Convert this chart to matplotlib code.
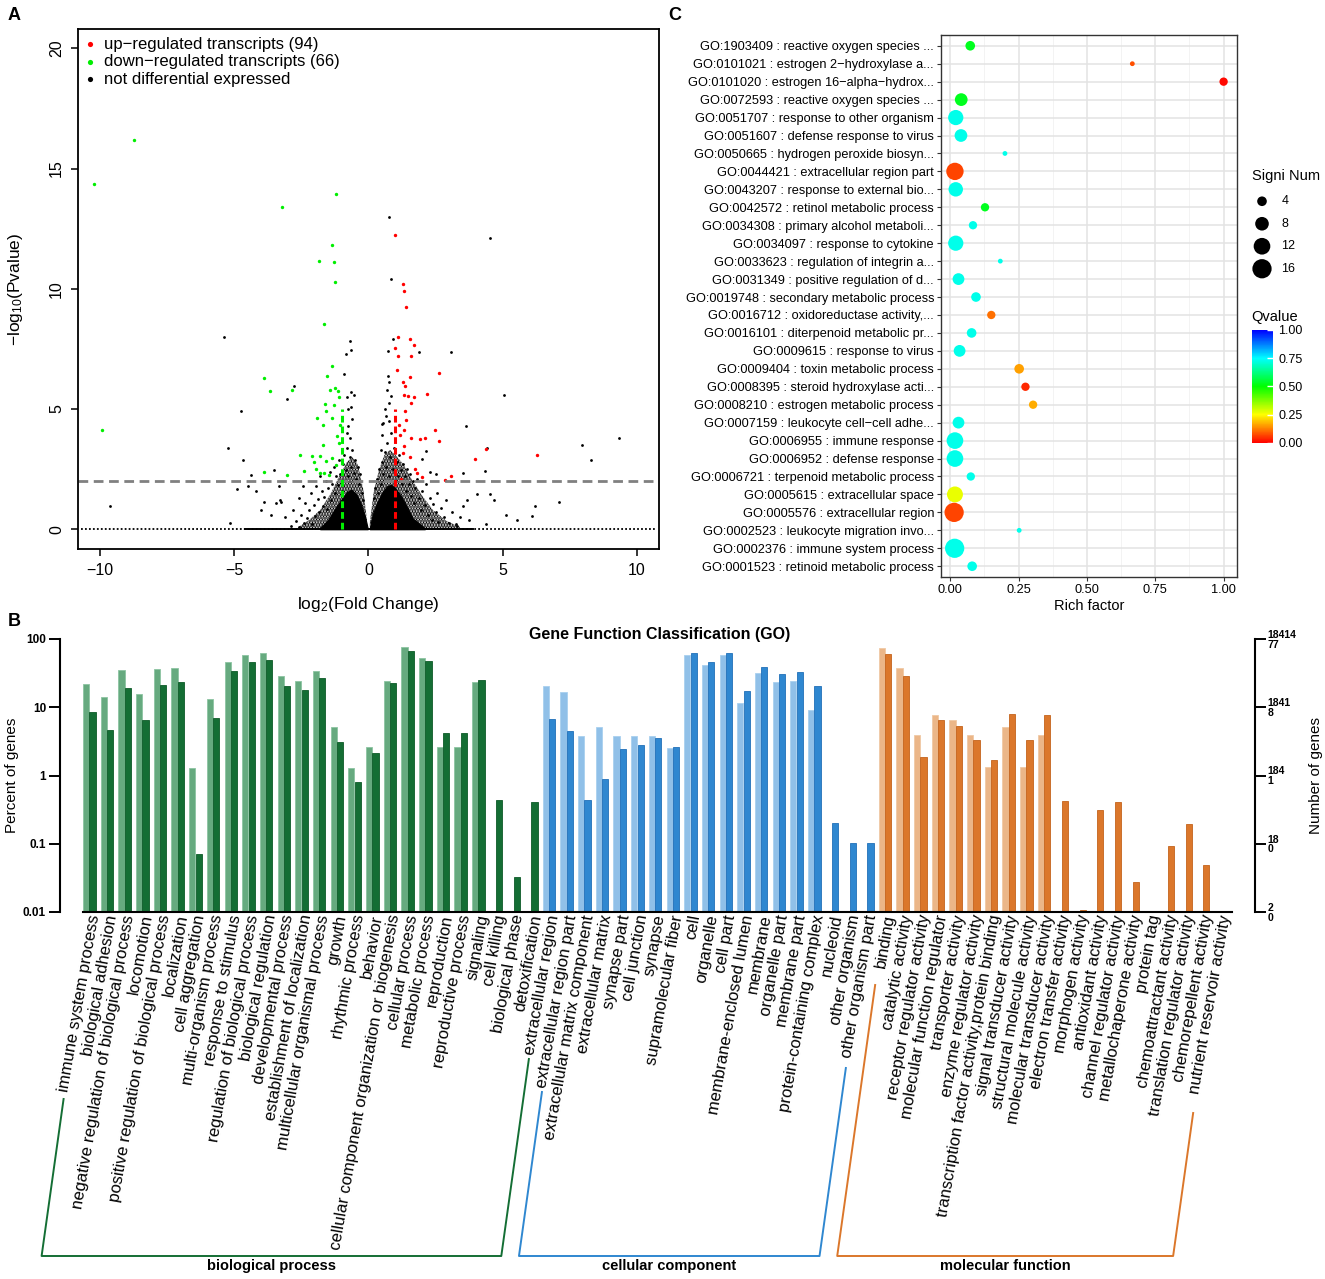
import numpy as np
import matplotlib
matplotlib.use('Agg')
import matplotlib.pyplot as plt
import matplotlib.transforms as mtransforms
from matplotlib.colors import LinearSegmentedColormap
from matplotlib.lines import Line2D

plt.rcParams['font.family'] = ['Liberation Sans', 'DejaVu Sans']
plt.rcParams['mathtext.default'] = 'regular'
plt.rcParams['hatch.linewidth'] = 1.7

W, H = 1325, 1279

# ---------------- A: volcano data ----------------
up_x = [1.0, 1.29, 1.32, 1.40, 1.10, 1.53, 1.0, 1.69, 1.10, 1.57, 1.08, 1.53, 2.61, 1.30, 1.37,
        1.32, 1.46, 1.69, 2.18, 1.57, 1.37, 1.40, 1.14, 1.34, 2.48, 1.16, 1.57, 1.92, 2.11, 2.61,
        1.32, 1.29, 4.39, 6.30, 1.53, 3.97, 1.72, 1.80, 2.85, 3.07, 2.0, 1.21]
up_y = [12.22, 10.20, 9.92, 9.26, 7.98, 7.91, 7.53, 7.65, 7.20, 7.20, 6.63, 6.35, 6.51, 6.13, 5.97,
        5.59, 5.56, 5.48, 5.61, 5.23, 4.93, 4.54, 4.33, 4.11, 4.11, 3.91, 3.78, 3.75, 3.78, 3.67,
        3.45, 3.17, 3.34, 3.09, 3.01, 2.93, 2.52, 2.35, 2.06, 2.22, 2.19, 2.11]

down_x = [-10.22, -8.74, -9.95, -3.23, -1.21, -1.35, -1.83, -1.27, -1.24, -1.67, -1.35, -1.54,
          -3.91, -3.66, -2.85, -1.45, -1.24, -1.14, -1.10, -1.62, -1.27, -1.59, -1.91, -1.37,
          -1.69, -1.07, -1.16, -1.10, -1.70, -2.54, -2.11, -1.81, -2.05, -1.57, -1.35, -3.88,
          -3.05, -2.40, -1.97, -1.81, -1.65, -1.46, -1.22]
down_y = [14.34, 16.17, 4.11, 13.39, 13.96, 11.84, 11.15, 11.13, 10.28, 8.54, 6.78, 6.37,
          6.27, 5.76, 5.77, 5.81, 5.86, 5.74, 5.49, 5.20, 5.16, 4.90, 4.61, 4.61,
          4.33, 4.34, 3.87, 3.59, 3.49, 3.09, 3.04, 3.04, 2.80, 2.85, 2.96, 2.38,
          2.27, 2.43, 2.52, 2.35, 2.35, 2.27, 2.68]

ns_x = [0.75, 0.84, 4.52, -5.39, -0.70, -0.67, -0.83, 0.92, 0.73, 1.89, 3.07, -2.77, -3.04,
        -4.75, -5.23, -4.69, 5.07, 3.62, 4.42, 7.97, 9.35, 8.28, -9.63, 7.09, 6.22, 6.10, 5.14,
        5.53, -5.15, -0.92, -0.65, -0.81, -0.78, 0.72, 0.76, 0.84, 0.76, 0.49, 2.16, 1.99, 4.34,
        3.51, -4.39, -3.53, -4.90, -4.48, -4.20, -3.34, -4.0, -3.62, -3.88, -3.43, -3.28, 4.04,
        4.52, 4.67, 3.69, 3.75, 4.39, 3.53, 3.28]
ns_y = [12.99, 10.39, 12.11, 7.98, 7.83, 7.45, 7.27, 7.91, 7.40, 7.37, 7.37, 5.94, 5.43,
        4.90, 3.37, 2.86, 5.59, 4.29, 3.37, 3.50, 3.80, 2.88, 0.95, 1.15, 0.95, 0.54, 0.59,
        0.38, 0.25, 6.45, 5.72, 5.48, 4.98, 6.38, 6.13, 5.56, 5.23, 4.36, 3.26, 2.93, 2.43,
        2.35, 2.27, 2.47, 1.69, 1.78, 1.61, 1.78, 0.82, 0.58, 1.15, 1.09, 1.12, 1.45,
        1.45, 1.20, 1.20, 0.38, 0.21, 0.95, 0.21]

halo_x = [-2.9, -2.7, -2.6, -2.5, -2.4, -2.35, -2.3, -2.2, -2.15, -2.1, -2.05, -2.0, -1.95, -1.9,
          -1.85, -1.8, -1.75, -1.7, -1.65, -1.6, -1.55, -1.5, -1.45, -1.4, -1.35, -1.3, -1.25,
          -1.2, -1.15, -1.1, -1.05, -0.95, -0.9, -0.85, -0.8, -0.75, -0.7, -0.65, -0.6, -0.55,
          -0.5, -0.45, -0.4, -0.35, -0.3, -0.25, -0.2, -0.7, -0.75, -0.6, -0.8, -0.65, -0.55,
          -0.9, -1.0, -2.6, -3.1, -3.3, -2.8, -2.45,
          0.2, 0.25, 0.3, 0.35, 0.4, 0.45, 0.5, 0.55, 0.6, 0.65, 0.7, 0.75, 0.8, 0.85, 0.9, 0.95,
          1.05, 1.1, 1.15, 1.2, 1.25, 1.3, 1.35, 1.4, 1.45, 1.5, 1.55, 1.6, 1.65, 1.7, 1.75, 1.8,
          1.9, 1.95, 2.0, 2.1, 2.15, 2.2, 2.3, 2.35, 2.4, 2.5, 2.55, 2.6, 2.7, 2.8, 2.9, 3.0,
          3.1, 3.3, 3.4, 0.55, 0.6, 0.7, 0.65, 0.75, 0.5, 0.45, 2.5, 2.3]
halo_y = [0.15, 0.35, 0.1, 0.6, 0.25, 1.1, 0.45, 0.8, 1.5, 0.2, 1.0, 0.55, 1.8, 1.25,
          0.7, 2.2, 1.6, 0.95, 1.35, 2.0, 0.85, 1.7, 2.4, 1.2, 1.9, 2.6, 1.5,
          2.2, 1.85, 2.9, 2.3, 2.7, 3.1, 2.45, 3.4, 2.2, 3.0, 2.6, 3.3, 2.35,
          2.9, 2.1, 2.6, 1.9, 2.3, 1.5, 1.2, 3.8, 4.3, 4.6, 4.0, 5.1, 5.6,
          2.0, 1.6, 1.3, 0.5, 1.2, 0.8, 1.8,
          1.3, 1.7, 2.1, 1.5, 2.5, 1.9, 2.8, 2.3, 3.2, 2.6, 3.6, 2.2, 3.0, 4.0, 2.5, 3.4,
          2.8, 2.2, 3.1, 2.45, 1.9, 2.7, 2.2, 1.6, 2.5, 1.9, 2.3, 1.4, 2.0, 1.1, 1.7, 2.1,
          1.3, 0.8, 1.6, 1.0, 1.9, 0.6, 1.3, 0.4, 1.05, 0.7, 1.5, 0.3, 0.9, 0.5, 1.2, 0.25,
          0.7, 0.15, 0.5, 4.4, 5.0, 5.8, 4.7, 4.5, 3.9, 3.3, 2.3, 2.4]

# outline of the crowded point cloud (many overlapping points)
cloud_left_x = [-2.6, -2.2, -1.8, -1.4, -1.1, -0.8, -0.6, -0.4, -0.2, -0.05]
cloud_left_y = [0.1, 0.4, 0.8, 1.5, 2.2, 2.8, 3.0, 2.7, 1.7, 0.3]
cloud_right_x = [0.05, 0.2, 0.4, 0.6, 0.8, 1.0, 1.3, 1.6, 2.0, 2.4, 2.9, 3.4]
cloud_right_y = [0.3, 1.6, 2.5, 3.1, 3.3, 3.1, 2.7, 2.1, 1.4, 0.8, 0.35, 0.1]
# outline of the solid black part
core_left_x = [-1.8, -1.5, -1.25, -1.0, -0.8, -0.64, -0.45, -0.3, -0.15, -0.03]
core_left_y = [0.05, 0.4, 0.85, 1.25, 1.55, 1.65, 1.45, 1.1, 0.6, 0.05]
core_right_x = [0.05, 0.15, 0.3, 0.5, 0.7, 0.85, 1.0, 1.2, 1.4, 1.65, 2.1]
core_right_y = [0.05, 0.6, 1.05, 1.5, 1.8, 1.85, 1.7, 1.4, 1.0, 0.45, 0.05]

base_x = [-10.7, 10.7]
base_dense_x = [-4.6, 3.9]
fc_cut = 1
p_cut = 2
fc_mark_top = 5

# ---------------- B: GO classification ----------------
bp_terms = ['immune system process', 'biological adhesion', 'negative regulation of biological process',
            'locomotion', 'positive regulation of biological process', 'localization', 'cell aggregation',
            'multi-organism process', 'response to stimulus', 'regulation of biological process',
            'biological regulation', 'developmental process', 'establishment of localization',
            'multicellular organismal process', 'growth', 'rhythmic process', 'behavior',
            'cellular component organization or biogenesis', 'cellular process', 'metabolic process',
            'reproduction', 'reproductive process', 'signaling', 'cell killing', 'biological phase',
            'detoxification']
bp_all = [21.9, 14.3, 34.8, 15.5, 36.4, 37.7, 1.3, 13.0, 45.6, 59.0, 62.4, 28.4, 24.3, 34.4, 5.15,
          1.3, 2.6, 24.3, 75.5, 52.7, 2.6, 2.6, 23.2, np.nan, np.nan, np.nan]
bp_deg = [8.45, 4.6, 19.0, 6.4, 21.5, 23.5, 0.07, 7.0, 33.6, 46.0, 49.3, 20.3, 17.7, 26.6, 3.1,
          0.81, 2.17, 22.4, 67.5, 48.2, 4.2, 4.2, 24.8, 0.44, 0.033, 0.41]

cc_terms = ['extracellular region', 'extracellular region part', 'extracellular matrix component',
            'extracellular matrix', 'synapse part', 'cell junction', 'synapse', 'supramolecular fiber',
            'cell', 'organelle', 'cell part', 'membrane-enclosed lumen', 'membrane', 'organelle part',
            'membrane part', 'protein-containing complex', 'nucleoid', 'other organism',
            'other organism part']
cc_all = [20.5, 16.8, 3.85, 5.15, 3.85, 3.85, 3.85, 2.57, 59.0, 42.0, 58.4, 11.7, 32.2, 23.2,
          24.5, 9.04, np.nan, np.nan, np.nan]
cc_deg = [6.7, 4.56, 0.44, 0.90, 2.48, 2.81, 3.56, 2.66, 62.4, 46.0, 62.4, 17.3, 39.4, 30.8,
          32.9, 20.8, 0.2, 0.102, 0.102]

mf_terms = ['binding', 'catalytic activity', 'receptor regulator activity', 'molecular function regulator',
            'transporter activity', 'enzyme regulator activity',
            'transcription factor activity,protein binding', 'signal transducer activity',
            'structural molecule activity', 'molecular transducer activity', 'electron transfer activity',
            'morphogen activity', 'antioxidant activity', 'channel regulator activity',
            'metallochaperone activity', 'protein tag', 'chemoattractant activity',
            'translation regulator activity', 'chemorepellent activity', 'nutrient reservoir activity']
mf_all = [73.8, 37.7, 3.9, 7.8, 6.45, 3.9, 1.31, 5.15, 1.31, 3.9] + [np.nan] * 10
mf_deg = [60.3, 28.7, 1.86, 6.4, 5.27, 3.33, 1.69, 7.98, 3.33, 7.63, 0.417, 0.0108, 0.311, 0.41,
          0.0272, np.nan, 0.0925, 0.196, 0.049, 0.0102]

group_names = ['biological process', 'cellular component', 'molecular function']
left_ticks = [0.01, 0.1, 1, 10, 100]
left_labels = ['0.01', '0.1', '1', '10', '100']
right_top = ['2', '18', '184', '1841', '18414']
right_bottom = ['0', '0', '1', '8', '77']

# ---------------- C: GO enrichment ----------------
go_terms = ['GO:1903409 : reactive oxygen species ...', 'GO:0101021 : estrogen 2\u2212hydroxylase a...',
            'GO:0101020 : estrogen 16\u2212alpha\u2212hydrox...', 'GO:0072593 : reactive oxygen species ...',
            'GO:0051707 : response to other organism', 'GO:0051607 : defense response to virus',
            'GO:0050665 : hydrogen peroxide biosyn...', 'GO:0044421 : extracellular region part',
            'GO:0043207 : response to external bio...', 'GO:0042572 : retinol metabolic process',
            'GO:0034308 : primary alcohol metaboli...', 'GO:0034097 : response to cytokine',
            'GO:0033623 : regulation of integrin a...', 'GO:0031349 : positive regulation of d...',
            'GO:0019748 : secondary metabolic process', 'GO:0016712 : oxidoreductase activity,...',
            'GO:0016101 : diterpenoid metabolic pr...', 'GO:0009615 : response to virus',
            'GO:0009404 : toxin metabolic process', 'GO:0008395 : steroid hydroxylase acti...',
            'GO:0008210 : estrogen metabolic process', 'GO:0007159 : leukocyte cell\u2212cell adhe...',
            'GO:0006955 : immune response', 'GO:0006952 : defense response',
            'GO:0006721 : terpenoid metabolic process', 'GO:0005615 : extracellular space',
            'GO:0005576 : extracellular region', 'GO:0002523 : leukocyte migration invo...',
            'GO:0002376 : immune system process', 'GO:0001523 : retinoid metabolic process']
rich_factor = [0.073, 0.666, 1.0, 0.04, 0.02, 0.039, 0.2, 0.017, 0.02, 0.127,
               0.083, 0.02, 0.183, 0.03, 0.094, 0.15, 0.078, 0.034, 0.252, 0.275,
               0.303, 0.03, 0.017, 0.017, 0.075, 0.017, 0.014, 0.252, 0.016, 0.08]
qvalue = [0.53, 0.08, 0.01, 0.53, 0.73, 0.73, 0.73, 0.07, 0.73, 0.53,
          0.73, 0.73, 0.73, 0.73, 0.73, 0.11, 0.73, 0.73, 0.16, 0.04,
          0.17, 0.73, 0.73, 0.73, 0.73, 0.27, 0.07, 0.73, 0.73, 0.73]
signi_num = [4, 1, 3, 7, 10, 7, 1, 13, 9, 3, 3, 10, 1, 6, 4, 3, 4, 6, 4, 3,
             3, 6, 12, 12, 3, 11, 16, 1, 16, 4]
size_keys = [4, 8, 12, 16]


def px_rect(l, t, r, b):
    return [l / W, 1 - b / H, (r - l) / W, (b - t) / H]


def bubble_area(n):
    return 12.0 * np.asarray(n, dtype=float)


fig = plt.figure(figsize=(W / 100, H / 100), dpi=100)

# ======== Panel A ========
axA = fig.add_axes(px_rect(78, 29, 659, 549))
axA.fill_between(cloud_left_x, 0, cloud_left_y, facecolor='none', edgecolor='black', hatch='......', lw=0)
axA.fill_between(cloud_right_x, 0, cloud_right_y, facecolor='none', edgecolor='black', hatch='......', lw=0)
axA.fill_between(core_left_x, 0, core_left_y, color='black', lw=0.8)
axA.fill_between(core_right_x, 0, core_right_y, color='black', lw=0.8)
axA.plot(base_x, [0, 0], color='black', lw=1.3, ls=(0, (1, 1.2)))
axA.plot(base_dense_x, [0, 0], color='black', lw=1.4)
axA.axhline(p_cut, color='#808080', lw=2, ls=(0, (3.5, 2)))
axA.scatter(halo_x, halo_y, s=4, c='black', lw=0)
axA.scatter(ns_x, ns_y, s=4, c='black', lw=0)
axA.plot([-fc_cut, -fc_cut], [0, fc_mark_top], color='#00ee00', lw=2.2, ls=(0, (2.2, 1.3)))
axA.plot([fc_cut, fc_cut], [0, fc_mark_top], color='#ff0000', lw=2.2, ls=(0, (2.2, 1.3)))
axA.scatter(down_x, down_y, s=6, c='#00ee00', lw=0)
axA.scatter(up_x, up_y, s=6, c='#ff0000', lw=0)
axA.set_xlim(-10.83, 10.83)
axA.set_ylim(-0.82, 20.8)
axA.set_xticks([-10, -5, 0, 5, 10])
axA.set_yticks([0, 5, 10, 15, 20])
axA.tick_params(labelsize=11.5, length=5, width=1.1, pad=5)
axA.tick_params(axis='y', labelrotation=90)
for lab in axA.get_yticklabels():
    lab.set_va('center')
for sp in axA.spines.values():
    sp.set_linewidth(1.3)

leg_items = [('up\u2212regulated transcripts (94)', '#ff0000'),
             ('down\u2212regulated transcripts (66)', '#00ee00'),
             ('not differential expressed', 'black')]
for i, (lab, col) in enumerate(leg_items):
    yy = 0.971 - i * 0.034
    axA.scatter([0.02], [yy], s=14, c=col, lw=0, transform=axA.transAxes)
    axA.text(0.045, yy, lab, transform=axA.transAxes, fontsize=12, va='center', ha='left')

fig.text(368 / W, 1 - 605 / H, 'log$_2$(Fold Change)', fontsize=12.5, ha='center', va='center')
fig.text(16 / W, 1 - 289 / H, '\u2212log$_{10}$(Pvalue)', fontsize=12.5, ha='center', va='center',
         rotation=90)

# ======== Panel B ========
terms = bp_terms + cc_terms + mf_terms
all_pct = np.array(bp_all + cc_all + mf_all, dtype=float)
deg_pct = np.array(bp_deg + cc_deg + mf_deg, dtype=float)
group_sizes = [len(bp_terms), len(cc_terms), len(mf_terms)]
group_idx = np.repeat(np.arange(3), group_sizes)
light_cols = np.array(['#66aa7f', '#90c0e8', '#ebb688'])
dark_cols = np.array(['#146e34', '#2f87d0', '#db772b'])
light_edge = np.array(['#8cc4a2', '#a9d0ef', '#f0c9a5'])
dark_edge = np.array(['#0d5a28', '#2270b8', '#c4631c'])
group_line = ['#146e34', '#2f87d0', '#db772b']

xB = np.arange(len(terms))
axB = fig.add_axes(px_rect(60, 639, 1255, 912))
axB.set_yscale('log')
m = ~np.isnan(all_pct)
axB.bar(xB[m] - 0.18, all_pct[m] - 0.01, bottom=0.01, width=0.35,
        color=light_cols[group_idx[m]], edgecolor=light_edge[group_idx[m]], lw=0.6)
m = ~np.isnan(deg_pct)
axB.bar(xB[m] + 0.18, deg_pct[m] - 0.01, bottom=0.01, width=0.35,
        color=dark_cols[group_idx[m]], edgecolor=dark_edge[group_idx[m]], lw=0.6)
axB.set_ylim(0.01, 100)
axB.set_xlim(-1.66, 65.93)
axB.set_yticks(left_ticks)
axB.set_yticklabels(left_labels, fontsize=8.5, fontweight='bold')
axB.minorticks_off()
axB.tick_params(axis='y', length=8, width=1.4, pad=2)
axB.spines['top'].set_visible(False)
axB.spines['right'].set_visible(False)
axB.spines['left'].set_linewidth(1.5)
axB.spines['bottom'].set_linewidth(1.5)
axB.spines['bottom'].set_bounds(-0.36, 64.63)
axB.set_xticks(xB)
axB.set_xticklabels(terms, rotation=80, ha='right', va='center', rotation_mode='anchor', fontsize=12)
axB.tick_params(axis='x', length=0, pad=2)
shift = mtransforms.ScaledTranslation(0.05, 0, fig.dpi_scale_trans)
for lab in axB.get_xticklabels():
    lab.set_transform(lab.get_transform() + shift)
axB.set_ylabel('Percent of genes', fontsize=11)
axB.yaxis.set_label_coords(-0.034, 0.5)

axB2 = axB.twinx()
axB2.set_yscale('log')
axB2.set_ylim(0.01, 100)
axB2.set_yticks(left_ticks)
axB2.set_yticklabels([t + '\n' + b for t, b in zip(right_top, right_bottom)],
                     fontsize=7.5, fontweight='bold', linespacing=0.95)
axB2.minorticks_off()
axB2.tick_params(axis='y', length=8, width=1.4, pad=1)
for s in ['top', 'left', 'bottom']:
    axB2.spines[s].set_visible(False)
axB2.spines['right'].set_linewidth(1.5)
axB2.set_ylabel('Number of genes', fontsize=11)
axB2.yaxis.set_label_coords(1.045, 0.5)

fig.text(660 / W, 1 - 634 / H, 'Gene Function Classification (GO)', fontsize=11.5, fontweight='bold',
         ha='center', va='center')

# group brackets under the rotated labels
bracket_ends = [(0, 26), (27, 44), (45, 64)]
arm_tops = [(1099, 1059), (1092, 1068), (985, 1113)]
slope = 0.14
y_axis_px, y_bottom_px = 915, 1256
fig.canvas.draw()
for g, ((k0, k1), (t0, t1)) in enumerate(zip(bracket_ends, arm_tops)):
    xs = []
    for k, t in ((k0, t0), (k1, t1)):
        xc = axB.transData.transform((k, 1))[0]
        xs.append((xc - (t - y_axis_px) * slope, xc - (y_bottom_px - y_axis_px) * slope, t))
    px_x = [xs[0][0], xs[0][1], xs[1][1], xs[1][0]]
    px_y = [xs[0][2], y_bottom_px, y_bottom_px, xs[1][2]]
    fig.add_artist(Line2D([v / W for v in px_x], [1 - v / H for v in px_y],
                          transform=fig.transFigure, color=group_line[g], lw=1.4))
    fig.text((xs[0][1] + xs[1][1]) / 2 / W, 1 - 1266 / H, group_names[g], fontsize=10.5,
             fontweight='bold', ha='center', va='center')

# ======== Panel C ========
cmap = LinearSegmentedColormap.from_list('q', ['#ff0000', '#ffff00', '#00ff00', '#00ffff', '#0000ff'])
yC = np.arange(len(go_terms))[::-1]
axC = fig.add_axes(px_rect(941, 35, 1237, 577))
axC.set_xticks([0, 0.25, 0.5, 0.75, 1.0])
axC.set_xticks([0.125, 0.375, 0.625, 0.875], minor=True)
axC.set_yticks(yC)
axC.set_yticklabels(go_terms, fontsize=9.2)
axC.set_xticklabels(['0.00', '0.25', '0.50', '0.75', '1.00'], fontsize=9.2)
axC.grid(True, which='major', color='#e3e3e3', lw=1.1)
axC.grid(True, which='minor', axis='x', color='#f1f1f1', lw=0.6)
axC.set_axisbelow(True)
sc = axC.scatter(rich_factor, yC, s=bubble_area(signi_num), c=qvalue, cmap=cmap, vmin=0, vmax=1,
                 lw=0, zorder=3)
axC.set_xlim(-0.034, 1.049)
axC.set_ylim(-0.6, len(go_terms) - 0.4)
axC.tick_params(axis='both', which='major', length=3, width=0.8, color='#333333', pad=2)
axC.tick_params(axis='x', which='minor', length=0)
for sp in axC.spines.values():
    sp.set_color('#333333')
    sp.set_linewidth(1.0)
axC.set_xlabel('Rich factor', fontsize=10.5, labelpad=2)

fig.text(1252 / W, 1 - 176 / H, 'Signi Num', fontsize=10.5, ha='left', va='center')
axL = fig.add_axes(px_rect(1250, 190, 1274, 280))
axL.scatter([0] * len(size_keys), np.arange(len(size_keys)), s=bubble_area(size_keys), c='black', lw=0)
for i, k in enumerate(size_keys):
    axL.text(1.6, i, str(k), fontsize=9, va='center', ha='left')
axL.set_xlim(-1, 1)
axL.set_ylim(len(size_keys) - 0.5, -0.5)
axL.axis('off')

fig.text(1251 / W, 1 - 317 / H, 'Qvalue', fontsize=10.5, ha='left', va='center')
cax = fig.add_axes(px_rect(1252, 330, 1273, 443))
cb = fig.colorbar(sc, cax=cax, ticks=[0, 0.25, 0.5, 0.75, 1.0])
cb.ax.set_yticklabels(['0.00', '0.25', '0.50', '0.75', '1.00'], fontsize=9)
cb.ax.tick_params(length=4, color='white', width=1, direction='in', pad=4)
cb.outline.set_visible(False)

# panel letters
fig.text(14 / W, 1 - 15 / H, 'A', fontsize=13, fontweight='bold', ha='center', va='center')
fig.text(14 / W, 1 - 621 / H, 'B', fontsize=13, fontweight='bold', ha='center', va='center')
fig.text(675 / W, 1 - 15 / H, 'C', fontsize=13, fontweight='bold', ha='center', va='center')

fig.savefig('out.png', dpi=100)
